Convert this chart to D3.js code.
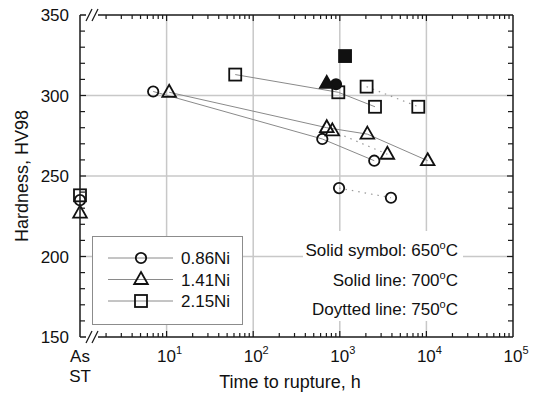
<!DOCTYPE html>
<html><head><meta charset="utf-8">
<script src="https://cdn.jsdelivr.net/npm/d3@7"></script>
<style>body{margin:0;background:#fff}svg{display:block;font-family:"Liberation Sans",Arial,sans-serif}</style>
</head><body>
<svg id="c" width="535" height="397"></svg>
<script>
// ---- data ----
const seriesNames = ["0.86Ni", "1.41Ni", "2.15Ni"];
const seriesSymbols = ["circle", "triangle", "square"];
// As ST hardness
const asST = [235, 227, 238];
// 650 °C (solid symbols)
const t650 = [904, 707, 1150];
const h650 = [307, 307.5, 324.5];
// 700 °C (solid lines)
const t700_086 = [7, 628, 2500];
const h700_086 = [302.5, 273, 259.5];
const t700_141 = [10.7, 707, 2080, 10350];
const h700_141 = [302, 280, 276, 259.5];
const t700_215 = [62, 961, 2550];
const h700_215 = [313, 302, 293];
// 750 °C (dotted lines)
const t750_086 = [980, 3900];
const h750_086 = [242.5, 236.5];
const t750_141 = [820, 3540];
const h750_141 = [278, 263.5];
const t750_215 = [2040, 8060];
const h750_215 = [305.5, 293];
// ticks
const yTicks = [150, 200, 250, 300, 350];
const xDecades = [1, 2, 3, 4, 5];
const notes = ["Solid symbol: 650", "Solid line: 700", "Doytted line: 750"];

// ---- layout ----
const svg = d3.select("#c");
const x = d3.scaleLog().domain([1, 1e5]).range([80, 513]);
const y = d3.scaleLinear().domain([150, 350]).range([337, 15]);
const X0 = 80, X1 = 513, Y0 = 337, Y1 = 15;
const gridC = "#c8c8c8", axC = "#1a1a1a", lineC = "#8a8a8a";

// grid
const g = svg.append("g");
[10, 100, 1000, 10000].forEach(v => g.append("line").attr("x1", x(v)).attr("x2", x(v)).attr("y1", Y1).attr("y2", Y0).attr("stroke", gridC).attr("stroke-width", 1.5));
[200, 250, 300].forEach(v => g.append("line").attr("x1", X0).attr("x2", X1).attr("y1", y(v)).attr("y2", y(v)).attr("stroke", gridC).attr("stroke-width", 1.5));

// white boxes
svg.append("rect").attr("x", 303).attr("y", 231).attr("width", 160).attr("height", 90).attr("fill", "#fff");
svg.append("rect").attr("x", 92.5).attr("y", 236.5).attr("width", 150).attr("height", 88).attr("fill", "#fff").attr("stroke", "#8c8c8c").attr("stroke-width", 1);

// marker helper
function marker(sel, type, cx, cy, filled) {
  const col = "#111";
  let m;
  if (type === "circle") m = sel.append("circle").attr("cx", cx).attr("cy", cy).attr("r", 5.2);
  else if (type === "square") m = sel.append("rect").attr("x", cx - 6).attr("y", cy - 6).attr("width", 12).attr("height", 12);
  else m = sel.append("path").attr("d", `M${cx},${cy - 7.5}L${cx + 6.8},${cy + 4.5}L${cx - 6.8},${cy + 4.5}Z`);
  m.attr("fill", filled ? col : "none").attr("stroke", col).attr("stroke-width", 1.8);
}

const lineGen = d3.line().x(d => x(d[0])).y(d => y(d[1]));
const solid = [[t700_086, h700_086], [t700_141, h700_141], [t700_215, h700_215]];
const dotted = [[t750_086, h750_086], [t750_141, h750_141], [t750_215, h750_215]];
const dl = svg.append("g");
solid.forEach(([t, h]) => dl.append("path").attr("d", lineGen(t.map((v, i) => [v, h[i]]))).attr("fill", "none").attr("stroke", lineC).attr("stroke-width", 1));
dotted.forEach(([t, h]) => dl.append("path").attr("d", lineGen(t.map((v, i) => [v, h[i]]))).attr("fill", "none").attr("stroke", "#999").attr("stroke-width", 1.2).attr("stroke-dasharray", "1.5,5"));

const mk = svg.append("g");
[solid, dotted].forEach(set => set.forEach(([t, h], s) => t.forEach((v, i) => marker(mk, seriesSymbols[s], x(v), y(h[i]), false))));
t650.forEach((v, s) => marker(mk, seriesSymbols[s], x(v), y(h650[s]), true));
asST.forEach((v, s) => marker(mk, seriesSymbols[s], x(1), y(v), false));

// axes frame with break marks
const ax = svg.append("g").attr("stroke", axC).attr("fill", "none");
ax.append("line").attr("x1", X0).attr("x2", X0).attr("y1", Y1).attr("y2", Y0).attr("stroke-width", 1.5);
ax.append("line").attr("x1", X1).attr("x2", X1).attr("y1", Y1).attr("y2", Y0).attr("stroke-width", 1.5);
[Y1, Y0].forEach(yy => {
  ax.append("line").attr("x1", X0).attr("x2", 86).attr("y1", yy).attr("y2", yy).attr("stroke-width", 1.5);
  ax.append("line").attr("x1", 98).attr("x2", X1).attr("y1", yy).attr("y2", yy).attr("stroke-width", 1.5);
  [89, 95].forEach(cx => ax.append("line").attr("x1", cx - 3).attr("x2", cx + 3).attr("y1", yy + 6).attr("y2", yy - 6).attr("stroke-width", 1.3));
});

// x ticks
const xt = [];
for (let d = 0; d < 5; d++) for (let k = 1; k <= 9; k++) { const v = k * Math.pow(10, d); if (v > 1) xt.push(v); }
xt.forEach(v => {
  const major = Math.abs(Math.log10(v) - Math.round(Math.log10(v))) < 1e-9;
  if (x(v) < 100 || v >= 1e5) return;
  const L = major ? 6 : 4;
  ax.append("line").attr("x1", x(v)).attr("x2", x(v)).attr("y1", Y0).attr("y2", Y0 - L).attr("stroke-width", 1.2);
  ax.append("line").attr("x1", x(v)).attr("x2", x(v)).attr("y1", Y1).attr("y2", Y1 + L).attr("stroke-width", 1.2);
});
// y ticks
d3.range(160, 350, 10).forEach(v => {
  const L = v % 50 === 0 ? 6 : 5;
  ax.append("line").attr("x1", X0).attr("x2", X0 + L).attr("y1", y(v)).attr("y2", y(v)).attr("stroke-width", 1.2);
  ax.append("line").attr("x1", X1).attr("x2", X1 - L).attr("y1", y(v)).attr("y2", y(v)).attr("stroke-width", 1.2);
});

// labels
const tx = svg.append("g").attr("fill", "#111").attr("font-size", 17);
yTicks.forEach(v => tx.append("text").attr("x", 69).attr("y", y(v) + 6).attr("text-anchor", "end").text(v));
xDecades.forEach(d => {
  const t = tx.append("text").attr("x", x(Math.pow(10, d)) + 3).attr("y", 362).attr("text-anchor", "middle");
  t.append("tspan").text("10");
  t.append("tspan").attr("font-size", 11).attr("dy", -8).text(d);
});
tx.append("text").attr("x", x(1)).attr("y", 362).attr("text-anchor", "middle").text("As");
tx.append("text").attr("x", x(1)).attr("y", 382).attr("text-anchor", "middle").text("ST");
tx.append("text").attr("x", 290).attr("y", 388).attr("text-anchor", "middle").attr("font-size", 18).text("Time to rupture, h");
tx.append("text").attr("transform", "translate(28,176) rotate(-90)").attr("text-anchor", "middle").attr("font-size", 18).text("Hardness, HV98");

// notes
notes.forEach((s, i) => {
  const t = tx.append("text").attr("x", 458).attr("y", 256 + i * 29.5).attr("text-anchor", "end");
  t.append("tspan").text(s);
  t.append("tspan").attr("font-size", 11).attr("dy", -7).text("o");
  t.append("tspan").attr("dy", 7).text("C");
});

// legend
seriesNames.forEach((n, i) => {
  const yy = 258 + i * 21.5;
  svg.append("line").attr("x1", 108).attr("x2", 173).attr("y1", yy).attr("y2", yy).attr("stroke", lineC).attr("stroke-width", 1);
  marker(svg, seriesSymbols[i], 141, yy, false);
  tx.append("text").attr("x", 181).attr("y", yy + 6).text(n);
});
</script>
</body></html>
